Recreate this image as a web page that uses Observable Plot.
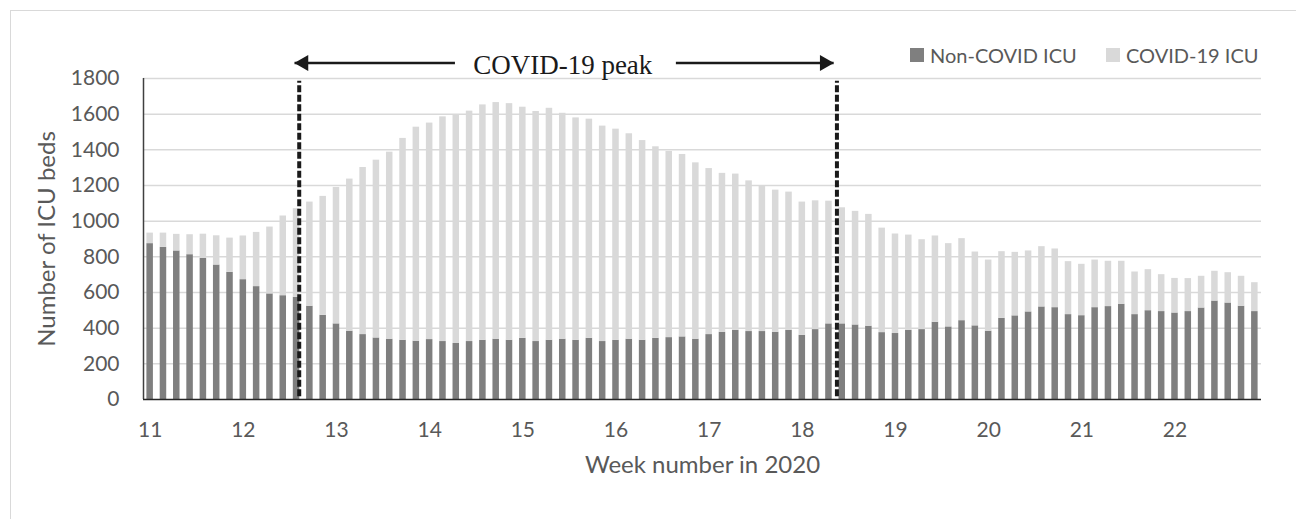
<!DOCTYPE html>
<html><head><meta charset="utf-8">
<script src="https://cdn.jsdelivr.net/npm/d3@7"></script>
<script src="https://cdn.jsdelivr.net/npm/@observablehq/plot@0.6"></script>
<style>
body{margin:0;background:#fff;}
#wrap{position:relative;width:1296px;height:519px;overflow:hidden;font-family:Lato,sans-serif;background:#fff;}
#frame{position:absolute;left:10px;top:10px;width:1400px;height:600px;border:1.5px solid #d9d9d9;box-sizing:border-box;pointer-events:none}
#chart{position:absolute;left:0;top:0;}
.leg{position:absolute;top:44px;height:22px;display:flex;align-items:center;font-size:20px;color:#595959;white-space:nowrap;}
.sw{width:14px;height:14px;margin-right:6px;}
</style></head>
<body><div id="wrap"><div id="chart"></div><div id="frame"></div><div id="legend"></div></div>
<script>
// Week numbers (each week = 7 daily bars)
const weeks = [11,12,13,14,15,16,17,18,19,20,21,22];
// Daily ICU bed occupancy
const nonCovid = [874,853,833,812,791,754,713,672,633,592,582,573,523,472,424,383,364,345,338,332,327,336,325,314,325,332,338,332,343,325,332,338,332,343,325,332,338,332,343,347,351,338,364,377,388,381,381,377,388,360,392,424,424,418,411,375,370,388,392,433,407,442,413,383,455,469,491,519,515,476,470,515,521,534,476,498,493,485,493,513,552,541,523,493];
const covid = [59,80,93,112,136,164,192,245,304,375,447,497,584,667,765,853,937,997,1049,1132,1200,1214,1260,1284,1292,1320,1327,1327,1296,1290,1301,1267,1247,1229,1208,1184,1152,1120,1074,1044,1023,989,931,891,876,845,816,797,775,747,722,688,651,637,627,586,558,534,504,484,467,460,414,399,374,356,342,338,329,297,288,267,254,241,239,230,207,194,185,178,167,170,168,162];
const seriesNames = ["Non-COVID ICU", "COVID-19 ICU"];
const seriesColors = ["#7f7f7f", "#d9d9d9"];
const yTicks = [0,200,400,600,800,1000,1200,1400,1600,1800];
const peakLabel = "COVID-19 peak";
// annotation positions in day-index units
const peakStart = 11.7, peakEnd = 52.1;
const arrowLeft = [11.35, 23.4], arrowRight = [40.0, 51.85];
const peakTextX = 31.5;
const arrowY = 1887, peakTextY = 1876;

const rows = nonCovid.map((v, i) => ({day: i, non: v, total: v + covid[i]}));
const weekTicks = weeks.map((w, k) => k * 7 + 0.5);
const ink = "#595959";

const plot = Plot.plot({
  width: 1296, height: 519,
  marginLeft: 143, marginRight: 35, marginTop: 78, marginBottom: 120,
  x: {type: "linear", domain: [0, nonCovid.length]},
  y: {domain: [0, 1800]},
  style: {fontFamily: "Lato, sans-serif", fontSize: "21px", color: ink, background: "transparent", overflow: "visible"},
  marks: [
    Plot.ruleY(yTicks.slice(1), {stroke: "#d9d9d9", strokeWidth: 1.5}),
    Plot.rect(rows, {x1: "day", x2: d => d.day + 1, y1: 0, y2: "non", fill: seriesColors[0], insetLeft: 3.4, insetRight: 3.4}),
    Plot.rect(rows, {x1: "day", x2: d => d.day + 1, y1: "non", y2: "total", fill: seriesColors[1], insetLeft: 3.4, insetRight: 3.4}),
    Plot.ruleX([0], {stroke: "#404040", strokeWidth: 1.5}),
    Plot.ruleY([0], {stroke: "#262626", strokeWidth: 1.5}),
    Plot.axisY({ticks: yTicks, tickSize: 0, tickPadding: 24, tickFormat: d => String(d), label: null}),
    Plot.axisX({ticks: weekTicks, tickSize: 0, tickPadding: 23, tickFormat: d => String(weeks[Math.round((d - 0.5) / 7)]), label: null}),
    Plot.text(["Number of ICU beds"], {text: d => d, x: -7.2, y: 900, rotate: -90, textAnchor: "middle", fontSize: 24, fill: ink}),
    Plot.text(["Week number in 2020"], {text: d => d, frameAnchor: "bottom", dy: 73, fontSize: 24, fill: ink}),
    Plot.ruleX([peakStart, peakEnd], {y1: 15, y2: 1785, stroke: "#1a1a1a", strokeWidth: 4, strokeDasharray: "7,2.5"}),
    Plot.link([arrowLeft, arrowRight], {x1: d => d[0], x2: d => d[1], y1: arrowY, y2: arrowY, stroke: "#1a1a1a", strokeWidth: 2.7}),
    Plot.dot([{x: arrowLeft[0]}], {x: "x", y: arrowY, dx: 9, rotate: -90, symbol: "triangle", r: 6, fill: "#1a1a1a", stroke: "none"}),
    Plot.dot([{x: arrowRight[1]}], {x: "x", y: arrowY, dx: -9, rotate: 90, symbol: "triangle", r: 6, fill: "#1a1a1a", stroke: "none"}),
    Plot.text([peakLabel], {text: d => d, x: peakTextX, y: peakTextY, fontFamily: "'Liberation Serif', 'Times New Roman', serif", fontSize: 27, fill: "#1a1a1a"})
  ]
});
document.getElementById("chart").appendChild(plot);

const legend = document.getElementById("legend");
const legendX = [910, 1106];
seriesNames.forEach((name, i) => {
  const item = document.createElement("div");
  item.className = "leg";
  item.style.left = legendX[i] + "px";
  const sw = document.createElement("span");
  sw.className = "sw";
  sw.style.background = seriesColors[i];
  item.appendChild(sw);
  item.appendChild(document.createTextNode(name));
  legend.appendChild(item);
});
</script>
</body></html>
